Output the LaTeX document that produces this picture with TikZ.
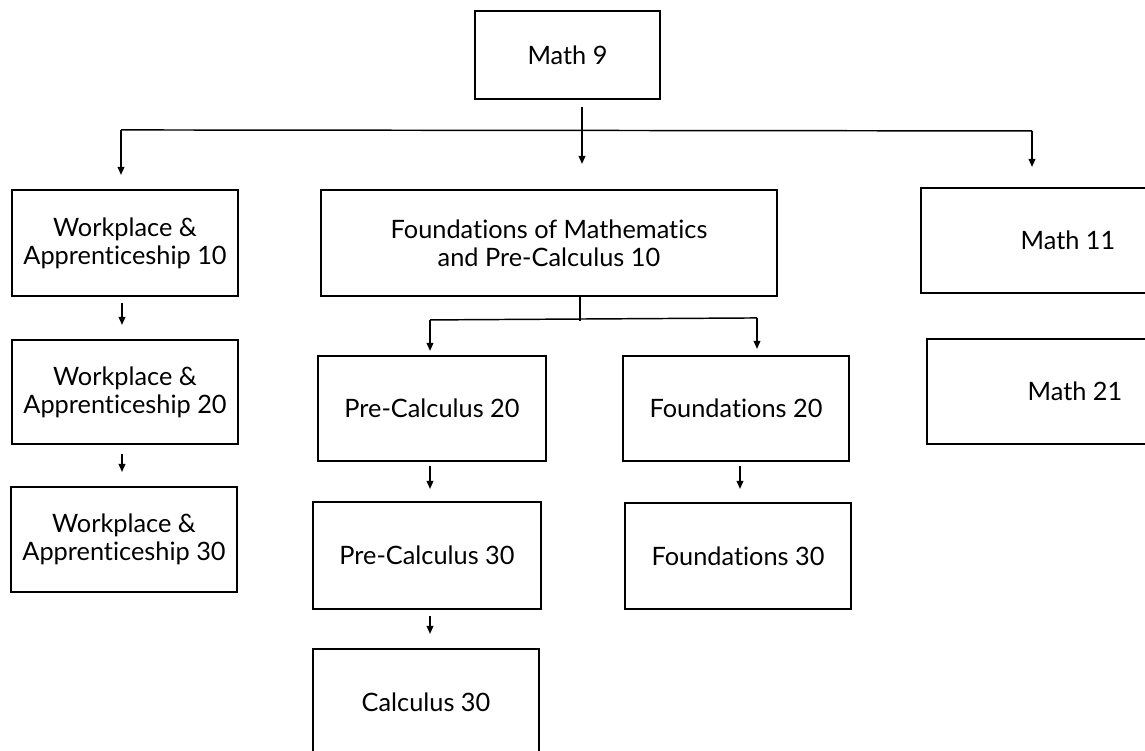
\documentclass[tikz,border=0pt]{standalone}
\usepackage{fontspec}
\setmainfont{Lato}[Ligatures={NoCommon,NoRare}]
\usetikzlibrary{arrows.meta,calc}
\begin{document}
\begin{tikzpicture}[x=0.75pt,y=-0.75pt,
  box/.style={draw, line width=1.6pt, inner sep=0pt, align=center, font=\fontsize{19}{21}\selectfont},
  conn/.style={line width=1.1pt},
  arr/.style={conn, -{Triangle[length=6pt,width=5pt]}}]
\useasboundingbox (0,0) rectangle (1145,750);
\clip (0,0) rectangle (1145,750);
\fill[white] (0,0) rectangle (1145,750);

\node[box, minimum width=138.75pt, minimum height=66pt] (m9) at (567.5,55) {Math 9};
\node[box, minimum width=169.5pt, minimum height=79.5pt] (wa10) at (125,243) {Workplace \&\\Apprenticeship 10};
\node[box, minimum width=169.5pt, minimum height=78pt] (wa20) at (125,392) {Workplace \&\\Apprenticeship 20};
\node[box, minimum width=169.5pt, minimum height=78.75pt] (wa30) at (124,539.5) {Workplace \&\\Apprenticeship 30};
\node[box, minimum width=342pt, minimum height=79.5pt] (fp10) at (549,243) {Foundations of Mathematics\\and Pre-Calculus 10};
\node[box, minimum width=171pt, minimum height=78.75pt] (pc20) at (432,408.5) {Pre-Calculus 20};
\node[box, minimum width=169.5pt, minimum height=78.75pt] (f20) at (736,408.5) {Foundations 20};
\node[box, minimum width=171pt, minimum height=80.25pt] (pc30) at (427,555.5) {Pre-Calculus 30};
\node[box, minimum width=169.5pt, minimum height=79.5pt] (f30) at (738,556) {Foundations 30};
\node[box, minimum width=169.5pt, minimum height=79.5pt] (c30) at (426,702) {Calculus 30};
\node[box, minimum width=220.5pt, minimum height=78.75pt] (m11) at (1068,240.5) {Math 11};
\node[box, minimum width=222pt, minimum height=78.75pt] (m21) at (1075,391.5) {Math 21};

% top-level split
\coordinate (jL) at ($(wa10.north)+(-4,-59)$);
\coordinate (jR) at ($(m11.north)+(-36,-56)$);
\draw[conn] (jL) -- (jR);
\draw[arr] ($(m9.south)+(14.5,7)$) -- ($(fp10.north)+(33,-25)$);
\draw[arr] (jL) -- ($(wa10.north)+(-4,-14)$);
\draw[arr] (jR) -- ($(m11.north)+(-36,-20)$);

% workplace chain
\draw[arr] ($(wa10.south)+(-3,6)$) -- ($(wa20.north)+(-3,-14)$);
\draw[arr] ($(wa20.south)+(-3,9)$) -- ($(wa30.north)+(-2,-14)$);

% foundations/pre-calc split
\coordinate (fM) at ($(fp10.south)+(31,24)$);
\coordinate (fL) at ($(pc20.north)+(-2,-35)$);
\coordinate (fR) at ($(f20.north)+(21,-37)$);
\draw[conn] ($(fp10.south)+(31,0)$) -- (fM);
\draw[conn] (fL) -- (fR);
\draw[arr] (fL) -- ($(pc20.north)+(-2,-4)$);
\draw[arr] (fR) -- ($(f20.north)+(21,-6)$);

\draw[arr] ($(pc20.south)+(-2,4)$) -- ($(pc30.north)+(3,-12)$);
\draw[arr] ($(f20.south)+(4,4)$) -- ($(f30.north)+(2,-13)$);
\draw[arr] ($(pc30.south)+(3,6)$) -- ($(c30.north)+(4,-14)$);
\end{tikzpicture}
\end{document}
